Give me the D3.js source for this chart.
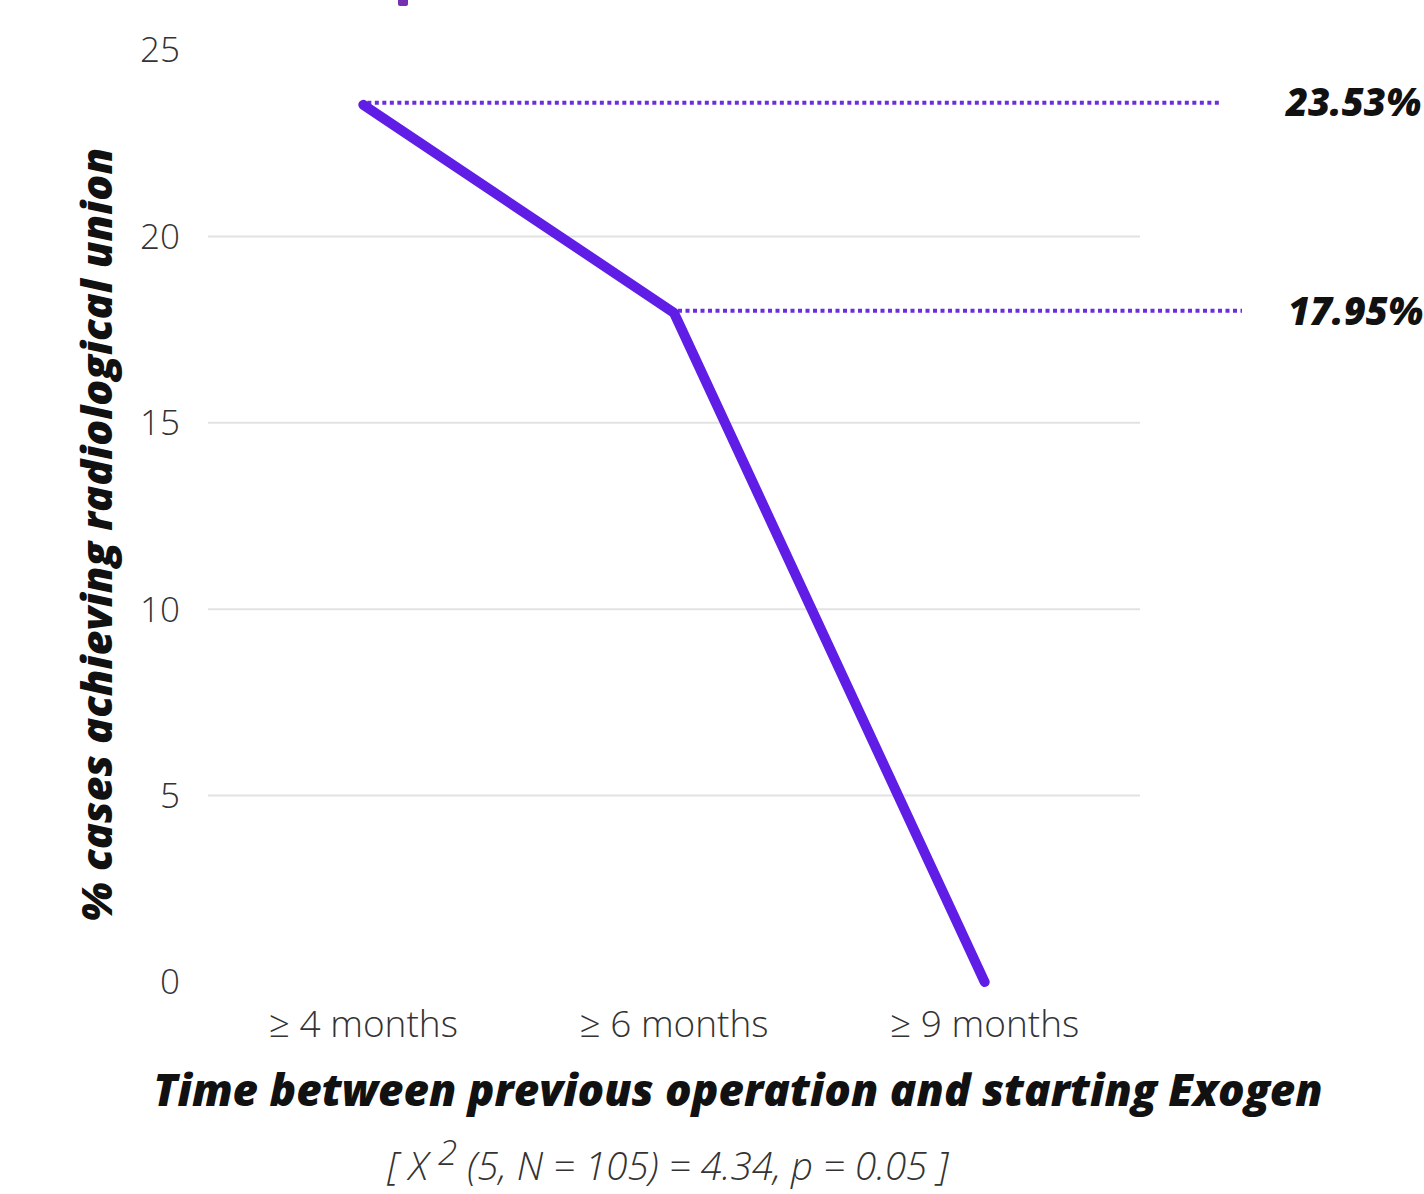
<!DOCTYPE html>
<html><head><meta charset="utf-8">
<script src="https://cdn.jsdelivr.net/npm/d3@7"></script>
<style>
html,body{margin:0;padding:0;background:#fff;}
svg{display:block;font-family:"Open Sans",sans-serif;}
</style></head>
<body>
<svg id="c" width="1424" height="1194"></svg>
<script>
const categories = ["\u2265 4 months", "\u2265 6 months", "\u2265 9 months"];
const values = [23.53, 17.95, 0];
const yTicks = [0, 5, 10, 15, 20, 25];
const gridTicks = [5, 10, 15, 20];
const refValues = [23.53, 17.95];
const refLabels = ["23.53%", "17.95%"];
const refEnds = [1222, 1242];
const yTitle = "% cases achieving radiological union";
const xTitle = "Time between previous operation and starting Exogen";

const svg = d3.select("#c");
const x = d3.scaleBand().domain(categories).range([208, 1140]);
const y = d3.scaleLinear().domain([0, 25]).range([982, 50]);
const cx = d => x(d) + x.bandwidth() / 2;

// cut-off title fragment at top
svg.append("rect").attr("x", 398).attr("y", -4).attr("width", 10).attr("height", 10)
  .attr("rx", 2).attr("fill", "#7530b0");

// gridlines
svg.append("g").selectAll("line").data(gridTicks).join("line")
  .attr("x1", 208).attr("x2", 1140)
  .attr("y1", d => y(d)).attr("y2", d => y(d))
  .attr("stroke", "#e2e2e2").attr("stroke-width", 2);

// y axis labels
const yAxis = svg.append("g").attr("transform", "translate(180,0)")
  .call(d3.axisLeft(y).tickValues(yTicks).tickSize(0).tickPadding(0));
yAxis.select(".domain").remove();
yAxis.selectAll("text").attr("font-size", 35).attr("font-weight", 300)
  .attr("fill", "#333").attr("font-family", "'Open Sans',sans-serif").attr("dy", "0.34em");

// x axis labels
const xAxis = svg.append("g").attr("transform", "translate(0,1003)")
  .call(d3.axisBottom(x).tickSize(0).tickPadding(0));
xAxis.select(".domain").remove();
xAxis.selectAll("text").attr("font-size", 37).attr("font-weight", 300)
  .attr("fill", "#333").attr("font-family", "'Open Sans',sans-serif").attr("dy", "0.93em");

// dotted reference lines
const refs = refValues.map((v, i) => ({v, label: refLabels[i], end: refEnds[i], cat: categories[i]}));
svg.append("g").selectAll("line").data(refs).join("line")
  .attr("x1", d => cx(d.cat) + 4).attr("x2", d => d.end)
  .attr("y1", d => y(d.v) - 2).attr("y2", d => y(d.v) - 2)
  .attr("stroke", "#6a2ee0").attr("stroke-width", 4)
  .attr("stroke-dasharray", "4 3.5");

svg.append("g").selectAll("text").data(refs).join("text")
  .attr("x", (d, i) => i === 0 ? 1286 : 1288)
  .attr("y", d => y(d.v) - 2)
  .attr("dy", "0.36em")
  .attr("font-size", 38).attr("font-weight", 800).attr("font-style", "italic")
  .attr("fill", "#111").text(d => d.label);

// main line
const line = d3.line().x((d, i) => cx(categories[i])).y(d => y(d));
svg.append("path").datum(values).attr("d", line)
  .attr("fill", "none").attr("stroke", "#5f1de6").attr("stroke-width", 10)
  .attr("stroke-linecap", "round").attr("stroke-linejoin", "round");

// y title
svg.append("text").attr("transform", "translate(112,535) rotate(-90)")
  .attr("text-anchor", "middle").attr("font-size", 43).attr("font-weight", 800)
  .attr("font-style", "italic").attr("fill", "#111").text(yTitle);

// x title
svg.append("text").attr("x", 738).attr("y", 1106)
  .attr("text-anchor", "middle").attr("font-size", 44).attr("font-weight", 800)
  .attr("font-style", "italic").attr("fill", "#111").text(xTitle);

// footnote
const fn = svg.append("text").attr("x", 668).attr("y", 1180)
  .attr("text-anchor", "middle").attr("font-size", 38.5).attr("font-weight", 300)
  .attr("font-style", "italic").attr("fill", "#333");
fn.append("tspan").text("[ X ");
fn.append("tspan").attr("dy", -15).attr("font-size", 35).text("2");
fn.append("tspan").attr("dy", 15).text(" (5, N = 105) = 4.34, p = 0.05 ]");
</script>
</body></html>
